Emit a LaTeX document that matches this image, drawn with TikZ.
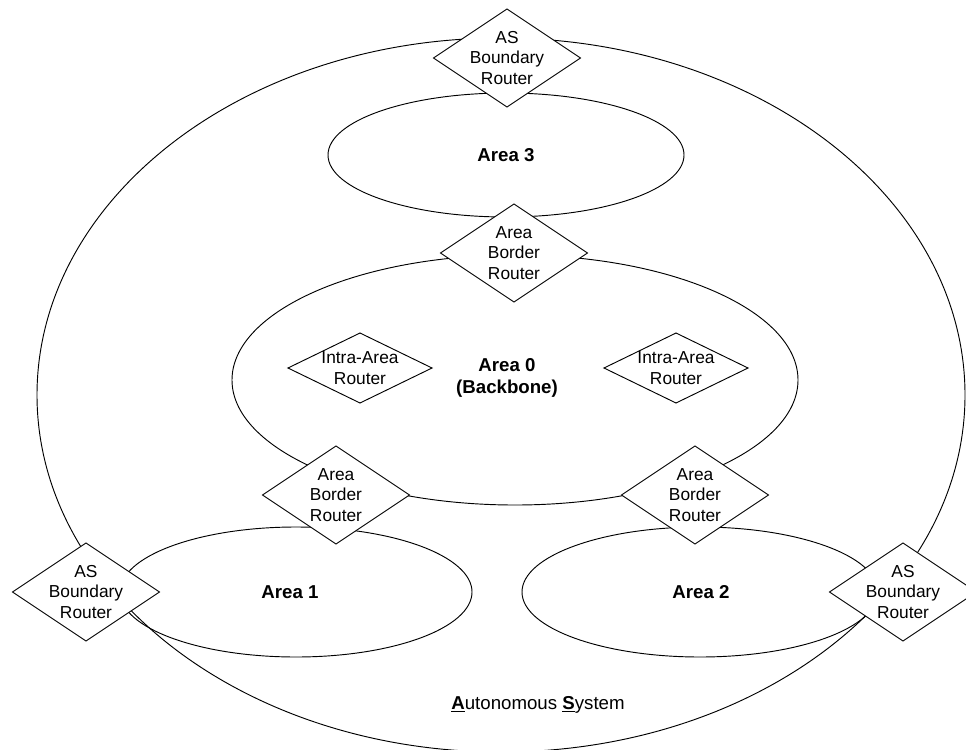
\documentclass[tikz,border=0pt]{standalone}
\usepackage{fontspec}
\setmainfont{Liberation Sans}
\usetikzlibrary{shapes.geometric}
\begin{document}
\begin{tikzpicture}[x=0.75pt,y=-0.75pt,
  line width=0.7pt,
  area/.style={ellipse, draw, inner sep=0pt, outer sep=0pt},
  router/.style={diamond, draw, fill=white, inner sep=0pt, outer sep=0pt,
    minimum width=110.25pt, minimum height=73.5pt},
  intra/.style={router, minimum width=108pt, minimum height=52.5pt},
  rtext/.style={align=center, inner sep=0pt, font=\fontsize{13}{15.5}\selectfont},
  atext/.style={align=center, inner sep=0pt, font=\fontsize{14}{16.5}\selectfont\bfseries}]
\useasboundingbox (0,0) rectangle (966,749);
\clip (0,0) rectangle (966,749);

% areas
\node[area, minimum width=696pt, minimum height=535.5pt] (as) at (501,395) {};
\node[area, minimum width=267pt, minimum height=93pt] (area3) at (506,155) {};
\node[area, minimum width=424.5pt, minimum height=187.5pt] (area0) at (515,380) {};
\node[area, minimum width=264pt, minimum height=97.5pt] (area1) at (296,592) {};
\node[area, minimum width=267pt, minimum height=97.5pt] (area2) at (700,592) {};

% area names
\node[atext] (area3name) at (506,155) {Area 3};
\node[atext] (area0name) at (507,378) {Area 0\\(Backbone)};
\node[atext] (area1name) at (290,592) {Area 1};
\node[atext] (area2name) at (701,592) {Area 2};
\node[inner sep=0pt, font=\fontsize{14}{17}\selectfont] (asname) at (538,705)
  {\underline{\textbf{A}}utonomous \underline{\textbf{S}}ystem};

% routers
\node[router, label={[rtext]center:AS\\Boundary\\Router}] (asbrtop) at (507,58) {};
\node[router, label={[rtext]center:Area\\Border\\Router}] (abr30) at (514,253) {};
\node[intra, label={[rtext]center:Intra-Area\\Router}] (intraL) at (360,368) {};
\node[intra, label={[rtext]center:Intra-Area\\Router}] (intraR) at (676,368) {};
\node[router, label={[rtext]center:Area\\Border\\Router}] (abr01) at (336,495) {};
\node[router, label={[rtext]center:Area\\Border\\Router}] (abr02) at (695,495) {};
\node[router, label={[rtext]center:AS\\Boundary\\Router}] (asbrL) at (86,592) {};
\node[router, label={[rtext]center:AS\\Boundary\\Router}] (asbrR) at (903,592) {};
\end{tikzpicture}
\end{document}
